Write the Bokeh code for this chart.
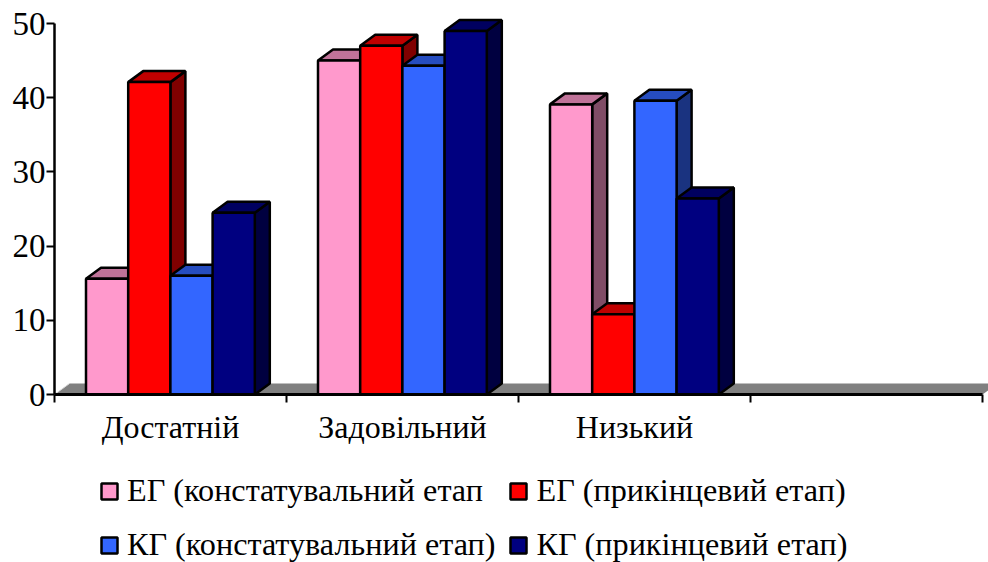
from bokeh.embed import file_html
from bokeh.layouts import column
from bokeh.models import ColumnDataSource, FixedTicker, Legend, LegendItem, Range1d
from bokeh.plotting import figure
from bokeh.resources import INLINE

# Category labels and series values, in percent
categories = ["Достатній", "Задовільний", "Низький"]
series_names = [
    "ЕГ (констатувальний етап",
    "ЕГ (прикінцевий етап)",
    "КГ (констатувальний етап)",
    "КГ (прикінцевий етап)",
]
eg_start = [15.6, 45.0, 39.1]
eg_final = [42.1, 47.0, 10.8]
kg_start = [16.0, 44.3, 39.6]
kg_final = [24.5, 49.0, 26.4]
series_values = [eg_start, eg_final, kg_start, kg_final]

front_colors = ["#FF99CC", "#FF0000", "#3366FF", "#000080"]
top_colors = ["#C07399", "#C00000", "#264DC0", "#000060"]
side_colors = ["#804D66", "#800000", "#1A3380", "#000040"]

# Plot frame geometry
FRAME_W, FRAME_H = 934, 394
CHART_H, LEGEND_H = 447, 115
PX_PER_CATEGORY = 232
PX_PER_UNIT = 7.42
SLOT_COUNT = 4

# Bar layout and oblique 3D depth, in data units
BAR_W = 42.2 / PX_PER_CATEGORY
BAR_PAD = 31.5 / PX_PER_CATEGORY
DX = 15 / PX_PER_CATEGORY
DY = 11 / PX_PER_UNIT

FONT = "Liberation Serif"
OUTLINE = 2.5

p = figure(
    width=988,
    height=CHART_H,
    frame_width=FRAME_W,
    frame_height=FRAME_H,
    output_backend="svg",
    toolbar_location=None,
    x_range=Range1d(0, FRAME_W / PX_PER_CATEGORY),
    y_range=Range1d(0, FRAME_H / PX_PER_UNIT),
    min_border_left=54,
    min_border_right=0,
    min_border_top=0,
    min_border_bottom=0,
    outline_line_color=None,
    background_fill_color="white",
    border_fill_color="white",
)
p.grid.visible = False

# Grey floor of the chart, running along the whole value axis base
p.patch(
    [0, SLOT_COUNT, SLOT_COUNT + DX, DX],
    [0, 0, DY, DY],
    fill_color="#808080",
    line_color=None,
)
p.line([0, DX], [0, DY], line_color="#D9D9D9", line_width=1)

for s, name in enumerate(series_names):
    lefts = [i + BAR_PAD + s * BAR_W for i in range(len(categories))]
    rights = [x + BAR_W for x in lefts]
    tops = series_values[s]

    side_x = [[r, r + DX, r + DX, r] for r in rights]
    side_y = [[0, DY, t + DY, t] for t in tops]
    p.patches(side_x, side_y, fill_color=side_colors[s], line_color="black", line_width=OUTLINE)

    top_x = [[l, l + DX, r + DX, r] for l, r in zip(lefts, rights)]
    top_y = [[t, t + DY, t + DY, t] for t in tops]
    p.patches(top_x, top_y, fill_color=top_colors[s], line_color="black", line_width=OUTLINE)

    src = ColumnDataSource(dict(left=lefts, right=rights, top=tops, bottom=[0] * len(tops)))
    p.quad(
        left="left", right="right", top="top", bottom="bottom", source=src,
        fill_color=front_colors[s], line_color="black", line_width=OUTLINE,
    )

# Category axis: labels sit mid-slot, tick marks fall on the slot edges
xa = p.xaxis[0]
xa.ticker = FixedTicker(
    ticks=[i + 0.5 for i in range(len(categories))],
    minor_ticks=list(range(SLOT_COUNT + 1)),
)
xa.major_label_overrides = {i + 0.5: c for i, c in enumerate(categories)}
xa.bounds = (0, SLOT_COUNT)
xa.major_tick_in = 0
xa.major_tick_out = 0
xa.minor_tick_in = 0
xa.minor_tick_out = 8
xa.minor_tick_line_color = "black"
xa.minor_tick_line_width = 2
xa.axis_line_color = "black"
xa.axis_line_width = 3
xa.major_label_text_font = FONT
xa.major_label_text_font_size = "32px"
xa.major_label_text_color = "black"
xa.major_label_standoff = 6

ya = p.yaxis[0]
ya.ticker = FixedTicker(ticks=[0, 10, 20, 30, 40, 50], minor_ticks=[])
ya.bounds = (0, 50)
ya.major_tick_in = 0
ya.major_tick_out = 8
ya.major_tick_line_color = "black"
ya.major_tick_line_width = 2
ya.axis_line_color = "black"
ya.axis_line_width = 2.5
ya.major_label_text_font = FONT
ya.major_label_text_font_size = "33px"
ya.major_label_text_color = "black"
ya.major_label_standoff = 1

# Legend strip under the chart; its key quads sit outside the visible range
key = figure(
    width=988,
    height=LEGEND_H,
    frame_width=FRAME_W,
    frame_height=LEGEND_H,
    output_backend="svg",
    toolbar_location=None,
    x_range=Range1d(0, FRAME_W),
    y_range=Range1d(0, LEGEND_H),
    x_axis_location=None,
    y_axis_location=None,
    min_border_left=54,
    min_border_right=0,
    min_border_top=0,
    min_border_bottom=0,
    outline_line_color=None,
)
key.grid.visible = False
legend_items = []
for s, name in enumerate(series_names):
    swatch = key.quad(
        left=[-40], right=[-30], top=[-30], bottom=[-40],
        fill_color=front_colors[s], line_color="black", line_width=OUTLINE,
    )
    legend_items.append(LegendItem(label=name, renderers=[swatch]))

# Columns fill top to bottom, so the two EG/KG pairs alternate here
legend = Legend(
    items=[legend_items[0], legend_items[2], legend_items[1], legend_items[3]],
    ncols=2,
    location=(45, -3),
    border_line_color=None,
    background_fill_alpha=0,
    label_text_font=FONT,
    label_text_font_size="32.2px",
    label_text_color="black",
    glyph_width=20,
    glyph_height=20,
    label_standoff=8,
    label_height=41,
    spacing=13,
    margin=0,
    padding=0,
)
key.add_layout(legend, "center")

page = column(p, key, spacing=0)
open("out.html", "w").write(file_html(page, INLINE))
